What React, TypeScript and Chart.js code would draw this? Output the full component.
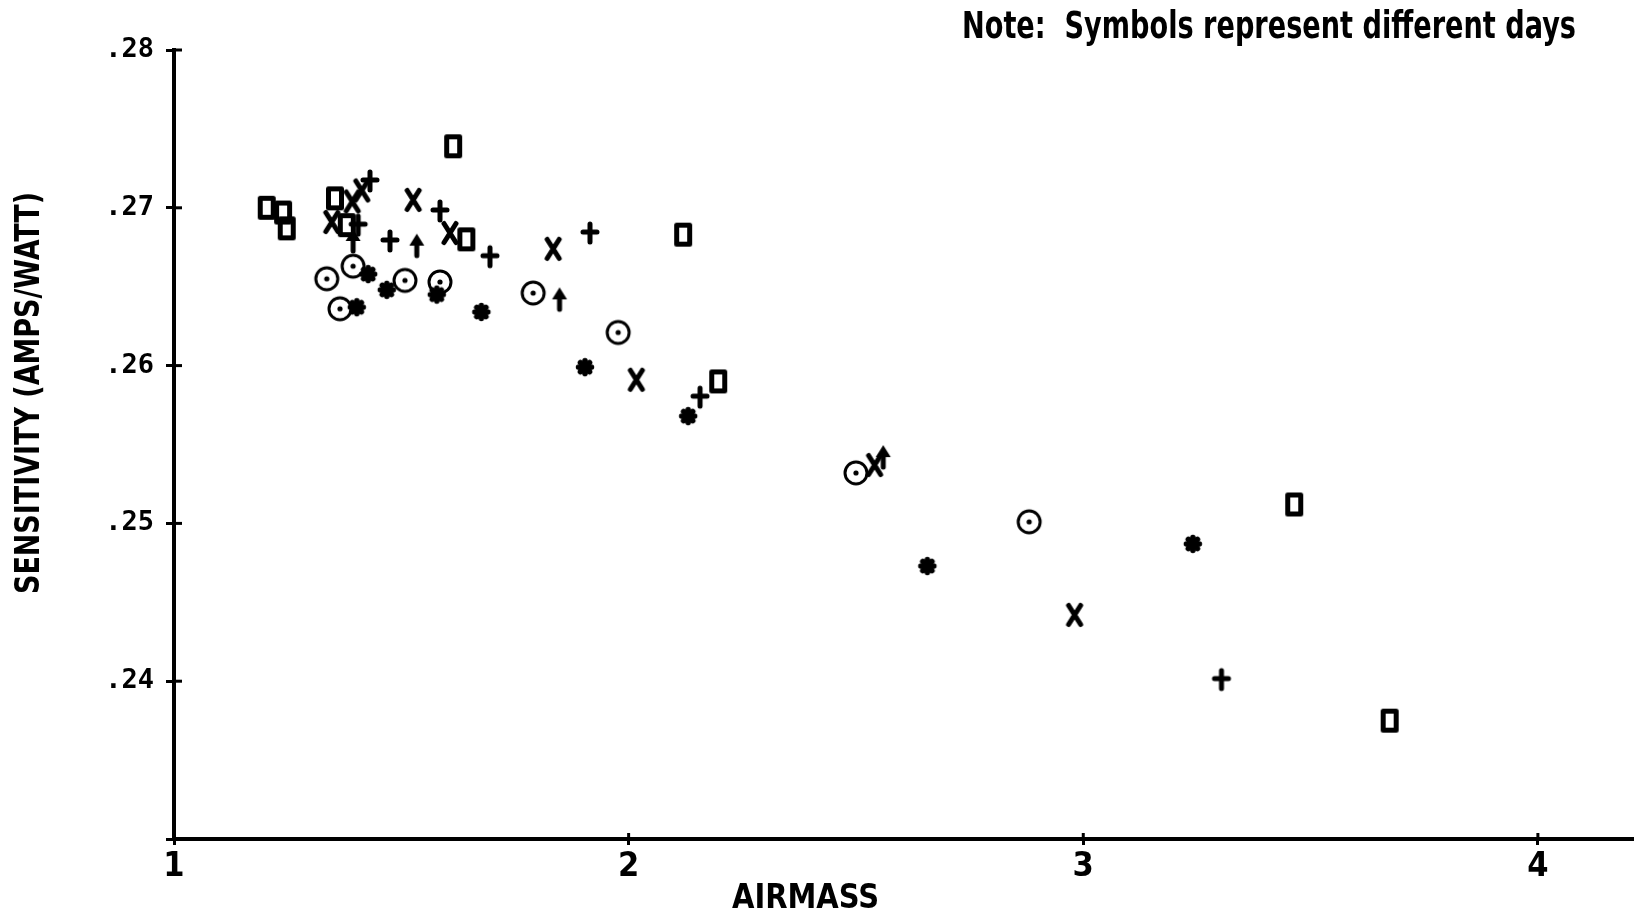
import React, { useEffect, useRef } from 'react';
import { Chart, registerables } from 'chart.js';

Chart.register(...registerables);

// ---- Data ----
const squareX = [1.204, 1.240, 1.248, 1.354, 1.380, 1.614, 1.643, 2.120, 2.197, 3.464, 3.674];
const squareY = [0.2700, 0.2697, 0.2687, 0.2706, 0.2689, 0.2739, 0.2680, 0.2683, 0.2590, 0.2512, 0.2375];

const crossX = [1.347, 1.392, 1.413, 1.526, 1.607, 1.834, 2.017, 2.541, 2.981];
const crossY = [0.2691, 0.2704, 0.2711, 0.2705, 0.2684, 0.2674, 0.2591, 0.2537, 0.2442];

const plusX = [1.431, 1.405, 1.475, 1.585, 1.695, 1.915, 2.157, 3.304];
const plusY = [0.2717, 0.2689, 0.2679, 0.2698, 0.2669, 0.2684, 0.2580, 0.2401];

const arrowX = [1.394, 1.534, 1.848, 2.560];
const arrowY = [0.2679, 0.2676, 0.2642, 0.2542];

const circleX = [1.336, 1.394, 1.365, 1.508, 1.585, 1.790, 1.977, 2.500, 2.881];
const circleY = [0.2655, 0.2663, 0.2636, 0.2654, 0.2653, 0.2646, 0.2621, 0.2532, 0.2501];

const starX = [1.427, 1.402, 1.468, 1.578, 1.676, 1.904, 2.131, 2.657, 3.241];
const starY = [0.2658, 0.2637, 0.2648, 0.2645, 0.2634, 0.2599, 0.2568, 0.2473, 0.2487];

const xTickValues = [1, 2, 3, 4];
const xTickLabels = ['1', '2', '3', '4'];
const yTickValues = [0.23, 0.24, 0.25, 0.26, 0.27, 0.28];
const yTickLabels = ['', '.24', '.25', '.26', '.27', '.28'];

const X_MIN = 1;
const X_MAX = 4.207;
const Y_MIN = 0.23;
const Y_MAX = 0.28;

const NOTE_TEXT = 'Note:  Symbols represent different days';
const X_TITLE = 'AIRMASS';
const Y_TITLE = 'SENSITIVITY (AMPS/WATT)';

// ---- Symbol images ----
function makeSymbol(kind: string): HTMLCanvasElement {
  const c = document.createElement('canvas');
  c.width = 30;
  c.height = 30;
  const g = c.getContext('2d')!;
  g.translate(15, 15);
  g.strokeStyle = '#000';
  g.fillStyle = '#000';
  g.lineCap = 'round';
  g.lineJoin = 'round';
  if (kind === 'square') {
    g.lineWidth = 5;
    g.strokeRect(-6.5, -9.5, 13, 19);
  } else if (kind === 'cross') {
    g.lineWidth = 5;
    g.beginPath();
    g.moveTo(-6, -9.5);
    g.lineTo(6, 9.5);
    g.moveTo(6, -9.5);
    g.lineTo(-6, 9.5);
    g.stroke();
  } else if (kind === 'plus') {
    g.lineWidth = 5;
    g.beginPath();
    g.moveTo(0, -9);
    g.lineTo(0, 9);
    g.moveTo(-7, -1);
    g.lineTo(7, -1);
    g.stroke();
  } else if (kind === 'arrow') {
    g.lineWidth = 5;
    g.beginPath();
    g.moveTo(0, -2);
    g.lineTo(0, 10);
    g.stroke();
    g.beginPath();
    g.moveTo(0, -12);
    g.lineTo(-7.5, 0);
    g.lineTo(7.5, 0);
    g.closePath();
    g.fill();
  } else if (kind === 'circle') {
    g.lineWidth = 3;
    g.beginPath();
    g.arc(0, 0, 11, 0, Math.PI * 2);
    g.stroke();
    g.beginPath();
    g.arc(0, 0, 2.6, 0, Math.PI * 2);
    g.fill();
  } else if (kind === 'star') {
    g.lineWidth = 5.5;
    g.beginPath();
    for (let i = 0; i < 4; i++) {
      const a = (i * Math.PI) / 4;
      g.moveTo(-6.5 * Math.cos(a), -6.5 * Math.sin(a));
      g.lineTo(6.5 * Math.cos(a), 6.5 * Math.sin(a));
    }
    g.stroke();
    g.beginPath();
    g.arc(0, 0, 5, 0, Math.PI * 2);
    g.fill();
  }
  return c;
}

function toPoints(xs: number[], ys: number[]) {
  return xs.map((x, i) => ({ x, y: ys[i] }));
}

function drawFitted(
  ctx: CanvasRenderingContext2D,
  text: string,
  font: string,
  x: number,
  y: number,
  width: number,
  rotate: boolean
) {
  ctx.save();
  ctx.font = font;
  ctx.fillStyle = '#000';
  ctx.textAlign = 'left';
  ctx.textBaseline = 'alphabetic';
  const w = ctx.measureText(text).width;
  ctx.translate(x, y);
  if (rotate) ctx.rotate(-Math.PI / 2);
  ctx.scale(width / w, 1);
  ctx.fillText(text, 0, 0);
  ctx.restore();
}

const decorPlugin = {
  id: 'decor',
  afterDraw(chart: any) {
    const ctx: CanvasRenderingContext2D = chart.ctx;
    const { left, bottom } = chart.chartArea;
    const xs = chart.scales.x;
    const ys = chart.scales.y;
    ctx.save();
    ctx.strokeStyle = '#000';
    ctx.lineWidth = 3;
    ys.ticks.forEach((t: any) => {
      if (t.value === Y_MIN) return;
      const py = ys.getPixelForValue(t.value);
      ctx.beginPath();
      ctx.moveTo(left, py);
      ctx.lineTo(left + 8, py);
      ctx.stroke();
    });
    xs.ticks.forEach((t: any) => {
      const px = xs.getPixelForValue(t.value);
      ctx.beginPath();
      ctx.moveTo(px, bottom);
      ctx.lineTo(px, bottom - 6);
      ctx.stroke();
    });
    ctx.restore();

    const narrow = '"Liberation Sans Narrow", "DejaVu Sans Condensed", sans-serif';
    drawFitted(ctx, NOTE_TEXT, `bold 37px ${narrow}`, 962, 38, 614, false);
    drawFitted(ctx, X_TITLE, `bold 34px "DejaVu Sans Condensed", sans-serif`, 732, 908, 147, false);
    drawFitted(ctx, Y_TITLE, `bold 33px "DejaVu Sans Condensed", sans-serif`, 39, 594, 402, true);
  },
};

export default function App() {
  const canvasRef = useRef<HTMLCanvasElement | null>(null);

  useEffect(() => {
    document.body.style.margin = '0';
    const canvas = canvasRef.current;
    if (!canvas) return;

    const mk = (label: string, xs: number[], ys: number[], kind: string) => ({
      label,
      data: toPoints(xs, ys),
      pointStyle: makeSymbol(kind),
      pointRadius: 10,
      showLine: false,
    });

    const chart = new Chart(canvas, {
      type: 'scatter',
      data: {
        datasets: [
          mk('Day 1', squareX, squareY, 'square'),
          mk('Day 2', crossX, crossY, 'cross'),
          mk('Day 3', plusX, plusY, 'plus'),
          mk('Day 4', arrowX, arrowY, 'arrow'),
          mk('Day 5', circleX, circleY, 'circle'),
          mk('Day 6', starX, starY, 'star'),
        ] as any,
      },
      options: {
        animation: false,
        responsive: false,
        devicePixelRatio: 1,
        events: [],
        layout: { padding: { top: 50, right: 12, left: 0, bottom: 0 }, autoPadding: false },
        plugins: {
          legend: { display: false },
          tooltip: { enabled: false },
          title: { display: false },
        },
        scales: {
          x: {
            type: 'linear',
            min: X_MIN,
            max: X_MAX,
            afterBuildTicks: (scale: any) => {
              scale.ticks = xTickValues.map((v) => ({ value: v }));
            },
            afterFit: (scale: any) => {
              scale.height = 73;
            },
            ticks: {
              color: '#000',
              padding: 2,
              maxRotation: 0,
              autoSkip: false,
              font: { family: '"Liberation Sans Narrow", "DejaVu Sans Condensed", sans-serif', size: 34, weight: 'bold' },
              callback: (value: any) => {
                const i = xTickValues.indexOf(Number(value));
                return i >= 0 ? xTickLabels[i] : '';
              },
            },
            grid: { display: true, drawOnChartArea: false, drawTicks: true, tickLength: 6, color: '#000', lineWidth: 3 },
            border: { display: true, color: '#000', width: 4 },
          },
          y: {
            type: 'linear',
            min: Y_MIN,
            max: Y_MAX,
            afterBuildTicks: (scale: any) => {
              scale.ticks = yTickValues.map((v) => ({ value: v }));
            },
            afterFit: (scale: any) => {
              scale.width = 174;
            },
            ticks: {
              color: '#000',
              padding: 12,
              autoSkip: false,
              font: { family: '"DejaVu Sans Mono", monospace', size: 27, weight: 'bold' },
              callback: (value: any) => {
                const i = yTickValues.findIndex((v) => Math.abs(v - Number(value)) < 1e-9);
                return i >= 0 ? yTickLabels[i] : '';
              },
            },
            grid: { display: true, drawOnChartArea: false, drawTicks: true, tickLength: 8, color: '#000', lineWidth: 3 },
            border: { display: true, color: '#000', width: 4 },
          },
        },
      } as any,
      plugins: [decorPlugin],
    });

    return () => {
      chart.destroy();
    };
  }, []);

  return (
    <div style={{ width: 1644, height: 912, background: '#fff' }}>
      <canvas ref={canvasRef} width={1644} height={912} style={{ display: 'block' }} />
    </div>
  );
}
